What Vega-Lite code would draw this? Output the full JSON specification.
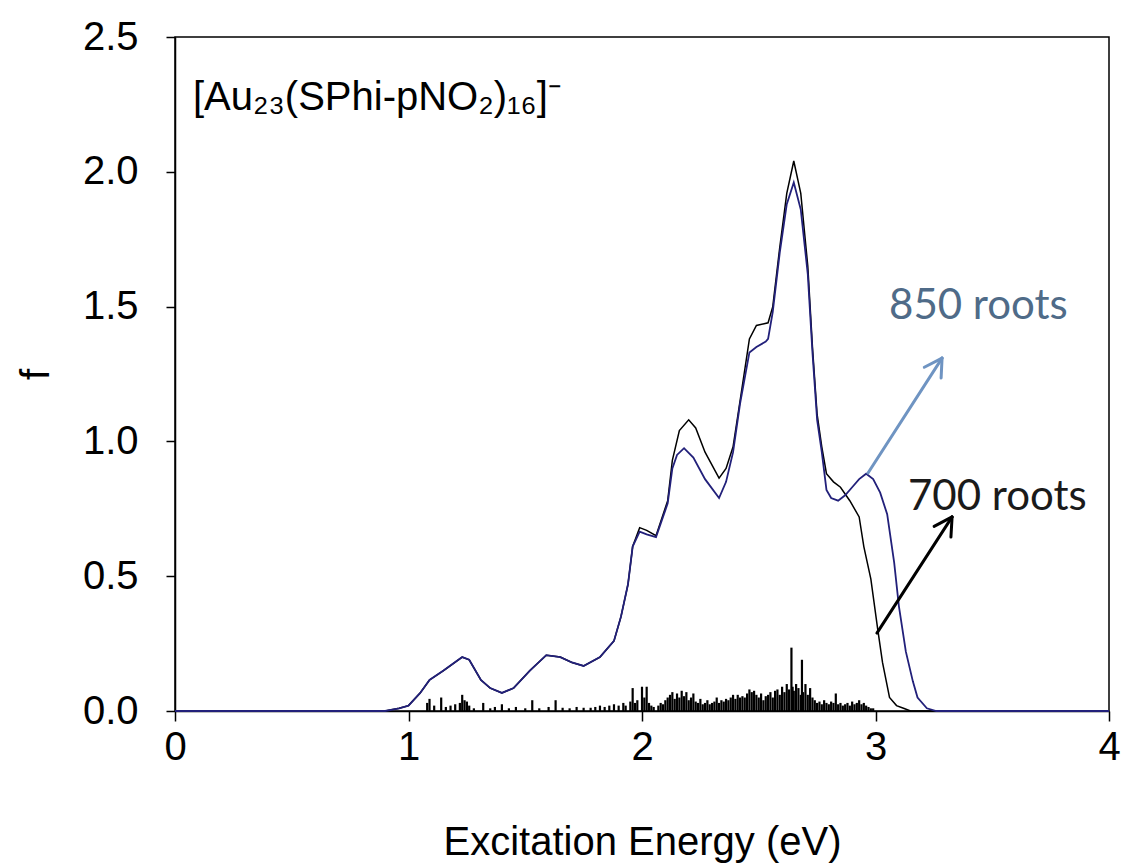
{
  "$schema": "https://vega.github.io/schema/vega-lite/v6.json",
  "width": 934,
  "height": 674,
  "autosize": {"type": "none"},
  "padding": {"left": 175, "top": 37, "right": 15, "bottom": 156},
  "background": "white",
  "config": {
    "view": {"stroke": "black", "strokeWidth": 1.5},
    "font": "Liberation Sans",
    "axis": {
      "grid": false,
      "domainColor": "black",
      "domainWidth": 1.5,
      "tickColor": "black",
      "tickWidth": 1.5,
      "labelColor": "black",
      "titleColor": "black",
      "labelFont": "Liberation Sans",
      "titleFont": "Liberation Sans",
      "labelFontSize": 40,
      "titleFontSize": 40,
      "titleFontWeight": "normal",
      "labelFlush": false,
      "labelOverlap": false
    }
  },
  "datasets": {
    "spectra": [
      {"energy": 0, "f": 0, "roots": 850},
      {"energy": 0.9, "f": 0, "roots": 850},
      {"energy": 0.96, "f": 0.01, "roots": 850},
      {"energy": 1.0, "f": 0.02, "roots": 850},
      {"energy": 1.05, "f": 0.067, "roots": 850},
      {"energy": 1.09, "f": 0.115, "roots": 850},
      {"energy": 1.15, "f": 0.15, "roots": 850},
      {"energy": 1.19, "f": 0.175, "roots": 850},
      {"energy": 1.23, "f": 0.2, "roots": 850},
      {"energy": 1.26, "f": 0.19, "roots": 850},
      {"energy": 1.31, "f": 0.115, "roots": 850},
      {"energy": 1.35, "f": 0.085, "roots": 850},
      {"energy": 1.4, "f": 0.067, "roots": 850},
      {"energy": 1.45, "f": 0.085, "roots": 850},
      {"energy": 1.52, "f": 0.15, "roots": 850},
      {"energy": 1.59, "f": 0.207, "roots": 850},
      {"energy": 1.65, "f": 0.2, "roots": 850},
      {"energy": 1.7, "f": 0.18, "roots": 850},
      {"energy": 1.75, "f": 0.167, "roots": 850},
      {"energy": 1.82, "f": 0.2, "roots": 850},
      {"energy": 1.88, "f": 0.26, "roots": 850},
      {"energy": 1.91, "f": 0.35, "roots": 850},
      {"energy": 1.94, "f": 0.47, "roots": 850},
      {"energy": 1.96, "f": 0.61, "roots": 850},
      {"energy": 1.99, "f": 0.665, "roots": 850},
      {"energy": 2.02, "f": 0.655, "roots": 850},
      {"energy": 2.06, "f": 0.645, "roots": 850},
      {"energy": 2.11, "f": 0.77, "roots": 850},
      {"energy": 2.13, "f": 0.9, "roots": 850},
      {"energy": 2.15, "f": 0.95, "roots": 850},
      {"energy": 2.18, "f": 0.975, "roots": 850},
      {"energy": 2.22, "f": 0.94, "roots": 850},
      {"energy": 2.27, "f": 0.86, "roots": 850},
      {"energy": 2.33, "f": 0.79, "roots": 850},
      {"energy": 2.36, "f": 0.85, "roots": 850},
      {"energy": 2.39, "f": 0.96, "roots": 850},
      {"energy": 2.42, "f": 1.14, "roots": 850},
      {"energy": 2.46, "f": 1.33, "roots": 850},
      {"energy": 2.49, "f": 1.35, "roots": 850},
      {"energy": 2.53, "f": 1.37, "roots": 850},
      {"energy": 2.54, "f": 1.38, "roots": 850},
      {"energy": 2.56, "f": 1.48, "roots": 850},
      {"energy": 2.59, "f": 1.7, "roots": 850},
      {"energy": 2.62, "f": 1.88, "roots": 850},
      {"energy": 2.65, "f": 1.96, "roots": 850},
      {"energy": 2.68, "f": 1.86, "roots": 850},
      {"energy": 2.71, "f": 1.62, "roots": 850},
      {"energy": 2.73, "f": 1.33, "roots": 850},
      {"energy": 2.75, "f": 1.08, "roots": 850},
      {"energy": 2.77, "f": 0.96, "roots": 850},
      {"energy": 2.79, "f": 0.82, "roots": 850},
      {"energy": 2.81, "f": 0.79, "roots": 850},
      {"energy": 2.84, "f": 0.78, "roots": 850},
      {"energy": 2.87, "f": 0.8, "roots": 850},
      {"energy": 2.9, "f": 0.83, "roots": 850},
      {"energy": 2.93, "f": 0.86, "roots": 850},
      {"energy": 2.96, "f": 0.88, "roots": 850},
      {"energy": 2.99, "f": 0.86, "roots": 850},
      {"energy": 3.02, "f": 0.81, "roots": 850},
      {"energy": 3.05, "f": 0.73, "roots": 850},
      {"energy": 3.08, "f": 0.55, "roots": 850},
      {"energy": 3.1, "f": 0.39, "roots": 850},
      {"energy": 3.13, "f": 0.22, "roots": 850},
      {"energy": 3.16, "f": 0.11, "roots": 850},
      {"energy": 3.18, "f": 0.05, "roots": 850},
      {"energy": 3.22, "f": 0.01, "roots": 850},
      {"energy": 3.26, "f": 0, "roots": 850},
      {"energy": 4.0, "f": 0, "roots": 850},
      {"energy": 0, "f": 0, "roots": 700},
      {"energy": 0.9, "f": 0, "roots": 700},
      {"energy": 0.96, "f": 0.01, "roots": 700},
      {"energy": 1.0, "f": 0.02, "roots": 700},
      {"energy": 1.05, "f": 0.067, "roots": 700},
      {"energy": 1.09, "f": 0.115, "roots": 700},
      {"energy": 1.15, "f": 0.15, "roots": 700},
      {"energy": 1.19, "f": 0.175, "roots": 700},
      {"energy": 1.23, "f": 0.2, "roots": 700},
      {"energy": 1.26, "f": 0.19, "roots": 700},
      {"energy": 1.31, "f": 0.115, "roots": 700},
      {"energy": 1.35, "f": 0.085, "roots": 700},
      {"energy": 1.4, "f": 0.067, "roots": 700},
      {"energy": 1.45, "f": 0.085, "roots": 700},
      {"energy": 1.52, "f": 0.15, "roots": 700},
      {"energy": 1.59, "f": 0.207, "roots": 700},
      {"energy": 1.65, "f": 0.2, "roots": 700},
      {"energy": 1.7, "f": 0.18, "roots": 700},
      {"energy": 1.75, "f": 0.167, "roots": 700},
      {"energy": 1.82, "f": 0.2, "roots": 700},
      {"energy": 1.88, "f": 0.26, "roots": 700},
      {"energy": 1.91, "f": 0.35, "roots": 700},
      {"energy": 1.94, "f": 0.47, "roots": 700},
      {"energy": 1.96, "f": 0.61, "roots": 700},
      {"energy": 1.99, "f": 0.68, "roots": 700},
      {"energy": 2.02, "f": 0.67, "roots": 700},
      {"energy": 2.06, "f": 0.65, "roots": 700},
      {"energy": 2.11, "f": 0.78, "roots": 700},
      {"energy": 2.13, "f": 0.93, "roots": 700},
      {"energy": 2.16, "f": 1.04, "roots": 700},
      {"energy": 2.2, "f": 1.08, "roots": 700},
      {"energy": 2.23, "f": 1.05, "roots": 700},
      {"energy": 2.27, "f": 0.96, "roots": 700},
      {"energy": 2.33, "f": 0.864, "roots": 700},
      {"energy": 2.36, "f": 0.9, "roots": 700},
      {"energy": 2.39, "f": 0.98, "roots": 700},
      {"energy": 2.42, "f": 1.15, "roots": 700},
      {"energy": 2.46, "f": 1.38, "roots": 700},
      {"energy": 2.49, "f": 1.43, "roots": 700},
      {"energy": 2.54, "f": 1.44, "roots": 700},
      {"energy": 2.56, "f": 1.5, "roots": 700},
      {"energy": 2.59, "f": 1.72, "roots": 700},
      {"energy": 2.62, "f": 1.92, "roots": 700},
      {"energy": 2.65, "f": 2.04, "roots": 700},
      {"energy": 2.68, "f": 1.92, "roots": 700},
      {"energy": 2.71, "f": 1.65, "roots": 700},
      {"energy": 2.73, "f": 1.35, "roots": 700},
      {"energy": 2.75, "f": 1.1, "roots": 700},
      {"energy": 2.77, "f": 0.98, "roots": 700},
      {"energy": 2.79, "f": 0.88, "roots": 700},
      {"energy": 2.82, "f": 0.85, "roots": 700},
      {"energy": 2.85, "f": 0.83, "roots": 700},
      {"energy": 2.89, "f": 0.78, "roots": 700},
      {"energy": 2.93, "f": 0.72, "roots": 700},
      {"energy": 2.95, "f": 0.61, "roots": 700},
      {"energy": 2.98, "f": 0.49, "roots": 700},
      {"energy": 3.01, "f": 0.3, "roots": 700},
      {"energy": 3.03, "f": 0.18, "roots": 700},
      {"energy": 3.06, "f": 0.05, "roots": 700},
      {"energy": 3.09, "f": 0.02, "roots": 700},
      {"energy": 3.12, "f": 0.01, "roots": 700},
      {"energy": 3.15, "f": 0, "roots": 700},
      {"energy": 4.0, "f": 0, "roots": 700}
    ],
    "sticks": [
      {"energy": 1.08, "f": 0.03}, {"energy": 1.09, "f": 0.045}, {"energy": 1.11, "f": 0.02},
      {"energy": 1.14, "f": 0.05}, {"energy": 1.16, "f": 0.015}, {"energy": 1.18, "f": 0.02},
      {"energy": 1.2, "f": 0.025}, {"energy": 1.22, "f": 0.03}, {"energy": 1.23, "f": 0.06},
      {"energy": 1.24, "f": 0.04}, {"energy": 1.25, "f": 0.035}, {"energy": 1.26, "f": 0.02},
      {"energy": 1.28, "f": 0.01}, {"energy": 1.32, "f": 0.03}, {"energy": 1.35, "f": 0.01},
      {"energy": 1.37, "f": 0.015}, {"energy": 1.4, "f": 0.025}, {"energy": 1.43, "f": 0.01},
      {"energy": 1.46, "f": 0.015}, {"energy": 1.5, "f": 0.01}, {"energy": 1.53, "f": 0.04},
      {"energy": 1.56, "f": 0.01}, {"energy": 1.6, "f": 0.015}, {"energy": 1.63, "f": 0.04},
      {"energy": 1.66, "f": 0.012}, {"energy": 1.69, "f": 0.01}, {"energy": 1.72, "f": 0.015},
      {"energy": 1.75, "f": 0.012}, {"energy": 1.78, "f": 0.012}, {"energy": 1.8, "f": 0.015},
      {"energy": 1.82, "f": 0.02}, {"energy": 1.84, "f": 0.015}, {"energy": 1.86, "f": 0.02},
      {"energy": 1.88, "f": 0.025}, {"energy": 1.9, "f": 0.02}, {"energy": 1.92, "f": 0.03},
      {"energy": 1.93, "f": 0.02}, {"energy": 1.95, "f": 0.035}, {"energy": 1.96, "f": 0.085},
      {"energy": 1.97, "f": 0.03}, {"energy": 1.98, "f": 0.04}, {"energy": 2.0, "f": 0.09},
      {"energy": 2.01, "f": 0.05}, {"energy": 2.02, "f": 0.09}, {"energy": 2.03, "f": 0.03},
      {"energy": 2.04, "f": 0.02}, {"energy": 2.05, "f": 0.015}, {"energy": 2.07, "f": 0.02},
      {"energy": 2.08, "f": 0.03}, {"energy": 2.09, "f": 0.025}, {"energy": 2.1, "f": 0.04},
      {"energy": 2.11, "f": 0.05}, {"energy": 2.12, "f": 0.06}, {"energy": 2.13, "f": 0.07},
      {"energy": 2.14, "f": 0.045}, {"energy": 2.15, "f": 0.065}, {"energy": 2.16, "f": 0.05},
      {"energy": 2.17, "f": 0.075}, {"energy": 2.18, "f": 0.055}, {"energy": 2.19, "f": 0.07},
      {"energy": 2.2, "f": 0.04}, {"energy": 2.21, "f": 0.05}, {"energy": 2.22, "f": 0.065},
      {"energy": 2.23, "f": 0.035}, {"energy": 2.24, "f": 0.03}, {"energy": 2.25, "f": 0.045},
      {"energy": 2.26, "f": 0.025}, {"energy": 2.27, "f": 0.03}, {"energy": 2.28, "f": 0.04},
      {"energy": 2.29, "f": 0.025}, {"energy": 2.3, "f": 0.03}, {"energy": 2.31, "f": 0.035},
      {"energy": 2.32, "f": 0.05}, {"energy": 2.33, "f": 0.03}, {"energy": 2.34, "f": 0.04},
      {"energy": 2.35, "f": 0.035}, {"energy": 2.36, "f": 0.045}, {"energy": 2.37, "f": 0.04},
      {"energy": 2.38, "f": 0.05}, {"energy": 2.39, "f": 0.06}, {"energy": 2.4, "f": 0.045},
      {"energy": 2.41, "f": 0.06}, {"energy": 2.42, "f": 0.05}, {"energy": 2.43, "f": 0.055},
      {"energy": 2.44, "f": 0.05}, {"energy": 2.45, "f": 0.065}, {"energy": 2.46, "f": 0.08},
      {"energy": 2.47, "f": 0.07}, {"energy": 2.48, "f": 0.075}, {"energy": 2.49, "f": 0.06},
      {"energy": 2.5, "f": 0.05}, {"energy": 2.51, "f": 0.065}, {"energy": 2.52, "f": 0.04},
      {"energy": 2.53, "f": 0.055}, {"energy": 2.54, "f": 0.06}, {"energy": 2.55, "f": 0.07},
      {"energy": 2.56, "f": 0.05}, {"energy": 2.57, "f": 0.075}, {"energy": 2.58, "f": 0.08},
      {"energy": 2.59, "f": 0.06}, {"energy": 2.6, "f": 0.09}, {"energy": 2.61, "f": 0.07},
      {"energy": 2.62, "f": 0.1}, {"energy": 2.63, "f": 0.08}, {"energy": 2.64, "f": 0.235},
      {"energy": 2.645, "f": 0.09}, {"energy": 2.65, "f": 0.075}, {"energy": 2.66, "f": 0.1},
      {"energy": 2.67, "f": 0.085}, {"energy": 2.68, "f": 0.06}, {"energy": 2.685, "f": 0.19},
      {"energy": 2.69, "f": 0.07}, {"energy": 2.7, "f": 0.1}, {"energy": 2.71, "f": 0.06},
      {"energy": 2.72, "f": 0.085}, {"energy": 2.73, "f": 0.05}, {"energy": 2.74, "f": 0.04},
      {"energy": 2.75, "f": 0.03}, {"energy": 2.76, "f": 0.035}, {"energy": 2.77, "f": 0.025},
      {"energy": 2.78, "f": 0.04}, {"energy": 2.79, "f": 0.03}, {"energy": 2.8, "f": 0.025},
      {"energy": 2.81, "f": 0.035}, {"energy": 2.82, "f": 0.03}, {"energy": 2.83, "f": 0.065},
      {"energy": 2.84, "f": 0.025}, {"energy": 2.85, "f": 0.03}, {"energy": 2.86, "f": 0.02},
      {"energy": 2.87, "f": 0.025}, {"energy": 2.88, "f": 0.03}, {"energy": 2.89, "f": 0.02},
      {"energy": 2.9, "f": 0.035}, {"energy": 2.91, "f": 0.025}, {"energy": 2.92, "f": 0.03},
      {"energy": 2.93, "f": 0.04}, {"energy": 2.94, "f": 0.025}, {"energy": 2.95, "f": 0.03},
      {"energy": 2.96, "f": 0.02}, {"energy": 2.97, "f": 0.015}, {"energy": 2.98, "f": 0.01},
      {"energy": 2.99, "f": 0.01}
    ],
    "arrow850": [
      {"energy": 2.968, "f": 0.883, "energy2": 3.285, "f2": 1.309},
      {"energy": 3.209, "f": 1.275, "energy2": 3.285, "f2": 1.309},
      {"energy": 3.281, "f": 1.235, "energy2": 3.285, "f2": 1.309}
    ],
    "arrow700": [
      {"energy": 3.006, "f": 0.289, "energy2": 3.328, "f2": 0.72},
      {"energy": 3.251, "f": 0.685, "energy2": 3.328, "f2": 0.72},
      {"energy": 3.323, "f": 0.645, "energy2": 3.328, "f2": 0.72}
    ]
  },
  "layer": [
    {
      "data": {"name": "sticks"},
      "mark": {"type": "rule", "color": "black", "strokeWidth": 2.2},
      "encoding": {
        "x": {
          "field": "energy", "type": "quantitative",
          "scale": {"domain": [0, 4], "nice": false},
          "axis": {
            "title": "Excitation Energy (eV)",
            "values": [0, 1, 2, 3, 4], "format": "d",
            "tickSize": 10, "labelPadding": 6, "titlePadding": 55
          }
        },
        "y": {
          "field": "f", "type": "quantitative",
          "scale": {"domain": [0, 2.5], "nice": false},
          "axis": {
            "title": "f",
            "values": [0, 0.5, 1, 1.5, 2, 2.5], "format": ".1f",
            "tickSize": 9, "labelPadding": 28, "titlePadding": 26
          }
        },
        "y2": {"datum": 0}
      }
    },
    {
      "data": {"name": "spectra"},
      "transform": [{"filter": "datum.roots === 700"}],
      "mark": {"type": "line", "color": "black", "strokeWidth": 1.5},
      "encoding": {
        "x": {"field": "energy", "type": "quantitative"},
        "y": {"field": "f", "type": "quantitative"}
      }
    },
    {
      "data": {"name": "spectra"},
      "transform": [{"filter": "datum.roots === 850"}],
      "mark": {"type": "line", "color": "#22207a", "strokeWidth": 1.8},
      "encoding": {
        "x": {"field": "energy", "type": "quantitative"},
        "y": {"field": "f", "type": "quantitative"}
      }
    },
    {
      "data": {"name": "arrow850"},
      "mark": {"type": "rule", "color": "#6f94c2", "strokeWidth": 3, "strokeCap": "round"},
      "encoding": {
        "x": {"field": "energy", "type": "quantitative"},
        "y": {"field": "f", "type": "quantitative"},
        "x2": {"field": "energy2"},
        "y2": {"field": "f2"}
      }
    },
    {
      "data": {"name": "arrow700"},
      "mark": {"type": "rule", "color": "black", "strokeWidth": 3, "strokeCap": "round"},
      "encoding": {
        "x": {"field": "energy", "type": "quantitative"},
        "y": {"field": "f", "type": "quantitative"},
        "x2": {"field": "energy2"},
        "y2": {"field": "f2"}
      }
    },
    {
      "data": {"values": [{"energy": 3.058, "f": 1.454, "label": "850 roots"}]},
      "mark": {"type": "text", "align": "left", "baseline": "alphabetic", "font": "Lato", "fontSize": 42, "color": "#4f6b88"},
      "encoding": {
        "x": {"field": "energy", "type": "quantitative"},
        "y": {"field": "f", "type": "quantitative"},
        "text": {"field": "label"}
      }
    },
    {
      "data": {"values": [{"energy": 3.139, "f": 0.746, "label": "700 roots"}]},
      "mark": {"type": "text", "align": "left", "baseline": "alphabetic", "font": "Lato", "fontSize": 42, "color": "#1a1a1a"},
      "encoding": {
        "x": {"field": "energy", "type": "quantitative"},
        "y": {"field": "f", "type": "quantitative"},
        "text": {"field": "label"}
      }
    },
    {
      "data": {"values": [{"energy": 0.077, "f": 2.229, "label": "[Au₂₃(SPhi-pNO₂)₁₆]⁻"}]},
      "mark": {"type": "text", "align": "left", "baseline": "alphabetic", "font": "Liberation Sans", "fontSize": 40, "color": "black"},
      "encoding": {
        "x": {"field": "energy", "type": "quantitative"},
        "y": {"field": "f", "type": "quantitative"},
        "text": {"field": "label"}
      }
    }
  ]
}
